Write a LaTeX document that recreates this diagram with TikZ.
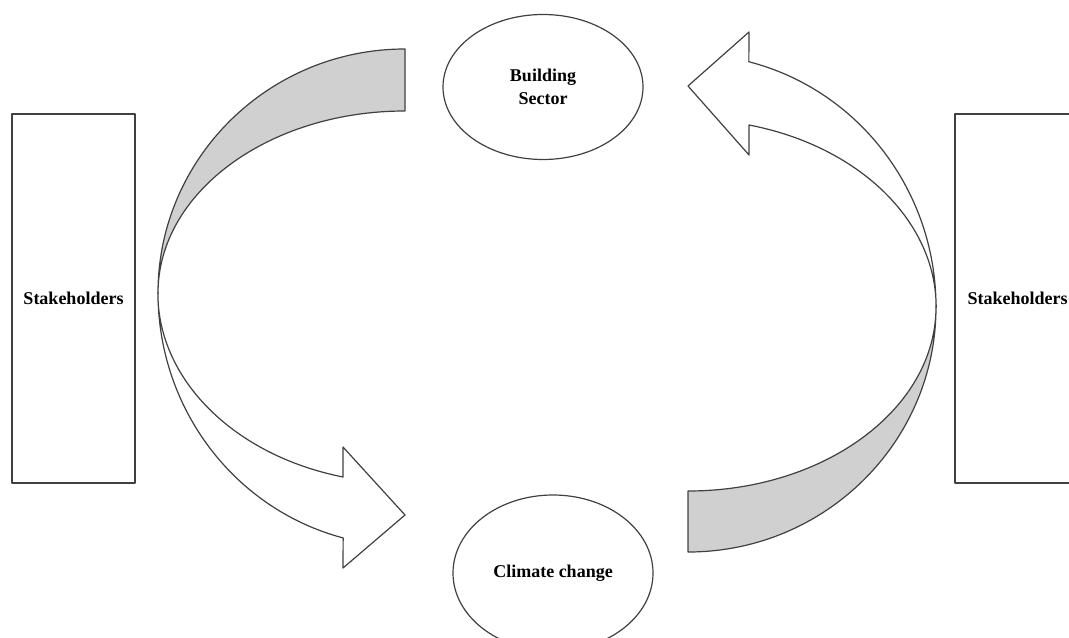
\documentclass[tikz,border=0pt]{standalone}
\usepackage{fontspec}
\setmainfont{Liberation Serif}
\usetikzlibrary{shapes.geometric}
\definecolor{bandgray}{RGB}{208,208,208}

\begin{document}
\begin{tikzpicture}
[x=0.75pt,y=0.75pt,
every node/.style={font=\fontsize{13.5}{17.25}\selectfont\bfseries,align=center,inner sep=0pt},
line/.style={draw=black!75,line width=0.9pt,line join=round},
holder/.style={line,rectangle,minimum width=92.25pt,minimum height=276.75pt},
topic/.style={line,ellipse},
backband/.style={line,fill=bandgray},
sweeparrow/.style={line,fill=white}]
\useasboundingbox (0,0) rectangle (1069,637);
\clip (0,0) rectangle (1069,637);

\node[holder] (lhold) at (73.5,338.5) {Stakeholders};
\node[holder,minimum width=93.75pt] (rhold) at (1017.5,338.5) {Stakeholders};
\node[topic,minimum width=150pt,minimum height=108.75pt] (build) at (543,550) {Building\\Sector};
\node[topic,minimum width=150pt,minimum height=117pt] (climate) at (553,64) {Climate change};

\coordinate (lcross) at (158,344);
\coordinate (rcross) at (936,330);

% left curved arrow
\path[backband] (405,588) arc[start angle=90,end angle=180,x radius=247,y radius=244]
  arc[start angle=180,end angle=90,x radius=247,y radius=182] -- cycle;
\path[sweeparrow] (lcross) arc[start angle=180,end angle=255.5,x radius=247,y radius=253]
  -- (343,69) -- (405,122) -- (343,190) -- (343,160)
  arc[start angle=255.5,end angle=180,x radius=247,y radius=190] -- cycle;

% right curved arrow
\path[backband] (688,85) arc[start angle=270,end angle=360,x radius=248,y radius=245]
  arc[start angle=0,end angle=-90,x radius=248,y radius=184] -- cycle;
\path[sweeparrow] (rcross) arc[start angle=0,end angle=75.8,x radius=248,y radius=253]
  -- (749,605) -- (688,551) -- (749,482) -- (749,512)
  arc[start angle=75.8,end angle=0,x radius=248,y radius=188] -- cycle;
\end{tikzpicture}
\end{document}
